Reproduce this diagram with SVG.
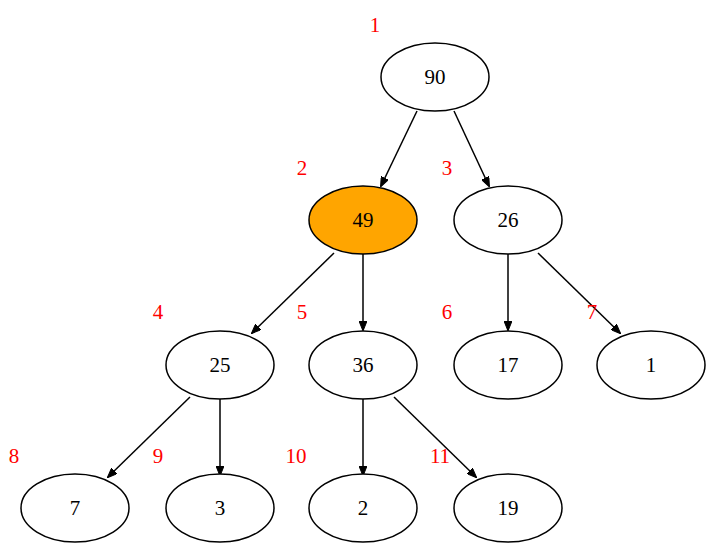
<svg xmlns="http://www.w3.org/2000/svg" width="714" height="553" viewBox="0 0 714 553">
<style>
.n ellipse{fill:#fff;stroke:#000;stroke-width:1.5}
.n text{font-family:"Liberation Serif",serif;font-size:21px;text-anchor:middle;dominant-baseline:central}
.lbl{font-family:"Liberation Serif",serif;font-size:21px;fill:#f00;text-anchor:middle;dominant-baseline:central}
.e line{stroke:#000;stroke-width:1.5;marker-end:url(#a)}
</style>
<defs><marker id="a" markerWidth="10" markerHeight="8" refX="9" refY="4" orient="auto" markerUnits="userSpaceOnUse" viewBox="0 0 10 8"><path d="M0,0L10,4L0,8z" fill="#000" stroke="#000"/></marker></defs>
<rect width="714" height="553" fill="#fff"/>
<g id="edges" class="e">
<line x1="417" y1="111" x2="381" y2="186"/>
<line x1="454" y1="111" x2="489" y2="186"/>
<line x1="334" y1="253" x2="252" y2="333"/>
<line x1="363" y1="254" x2="363" y2="330"/>
<line x1="508" y1="254" x2="508" y2="330"/>
<line x1="538" y1="253" x2="620" y2="333"/>
<line x1="190" y1="397" x2="108" y2="477"/>
<line x1="220" y1="399" x2="220" y2="475"/>
<line x1="363" y1="399" x2="363" y2="475"/>
<line x1="394" y1="397" x2="476" y2="477"/>
</g>
<g id="n1" class="n"><ellipse cx="435" cy="77" rx="54" ry="34"/><text x="435" y="77">90</text></g>
<g id="n2" class="n"><ellipse cx="363" cy="220" rx="54" ry="34" style="fill:#ffa500"/><text x="363" y="220">49</text></g>
<g id="n3" class="n"><ellipse cx="508" cy="220" rx="54" ry="34"/><text x="508" y="220">26</text></g>
<g id="n4" class="n"><ellipse cx="220" cy="365" rx="54" ry="34"/><text x="220" y="365">25</text></g>
<g id="n5" class="n"><ellipse cx="363" cy="365" rx="54" ry="34"/><text x="363" y="365">36</text></g>
<g id="n6" class="n"><ellipse cx="508" cy="365" rx="54" ry="34"/><text x="508" y="365">17</text></g>
<g id="n7" class="n"><ellipse cx="651" cy="365" rx="54" ry="34"/><text x="651" y="365">1</text></g>
<g id="n8" class="n"><ellipse cx="75" cy="508" rx="54" ry="34"/><text x="75" y="508">7</text></g>
<g id="n9" class="n"><ellipse cx="220" cy="508" rx="54" ry="34"/><text x="220" y="508">3</text></g>
<g id="n10" class="n"><ellipse cx="363" cy="508" rx="54" ry="34"/><text x="363" y="508">2</text></g>
<g id="n11" class="n"><ellipse cx="508" cy="508" rx="54" ry="34"/><text x="508" y="508">19</text></g>
<g id="labels">
<text class="lbl" x="375" y="25">1</text>
<text class="lbl" x="302" y="168">2</text>
<text class="lbl" x="447" y="168">3</text>
<text class="lbl" x="158" y="312">4</text>
<text class="lbl" x="302" y="312">5</text>
<text class="lbl" x="447" y="312">6</text>
<text class="lbl" x="592" y="312">7</text>
<text class="lbl" x="14" y="456">8</text>
<text class="lbl" x="158" y="456">9</text>
<text class="lbl" x="296" y="456">10</text>
<text class="lbl" x="440" y="456">11</text>
</g>
</svg>
